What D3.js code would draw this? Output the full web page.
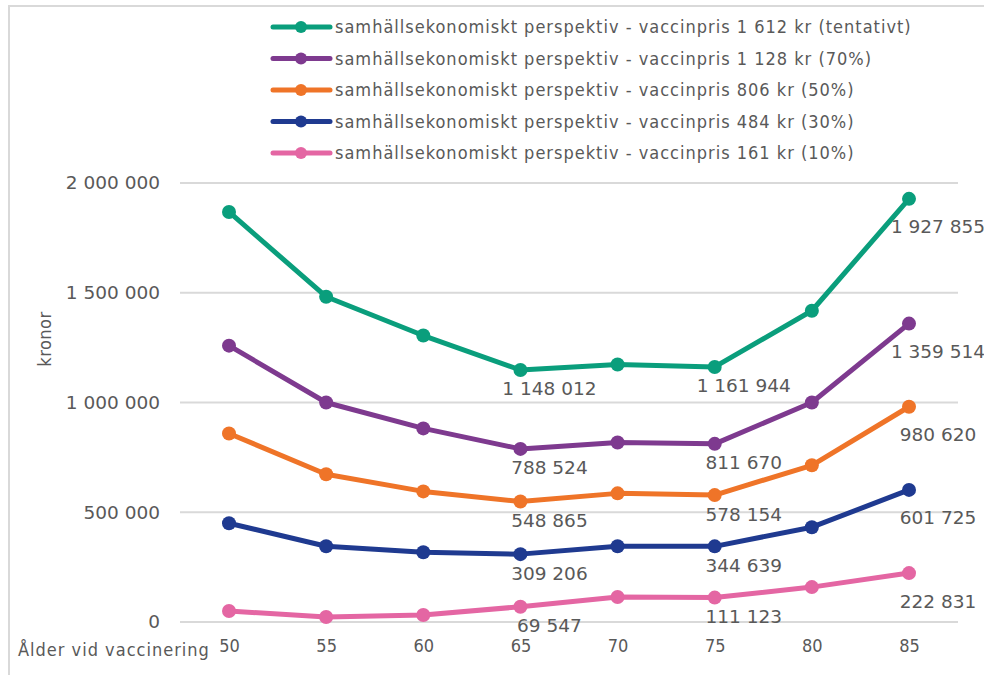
<!DOCTYPE html>
<html>
<head>
<meta charset="utf-8">
<script src="https://cdn.jsdelivr.net/npm/d3@7/dist/d3.min.js"></script>
<style>
  html, body { margin: 0; padding: 0; background: #fff; }
  svg { display: block; }
</style>
</head>
<body>
<div id="chart"></div>
<script>
// Ålder vid vaccinering
const ages = [50, 55, 60, 65, 70, 75, 80, 85];

// kronor per serie (etiketterade värden exakta)
const pris1612 = [1868000, 1482000, 1305000, 1148012, 1173000, 1161944, 1418000, 1927855];
const pris1128 = [1259000, 1000000, 882000, 788524, 818000, 811670, 1000000, 1359514];
const pris806 = [859000, 673000, 595000, 548865, 586000, 578154, 714000, 980620];
const pris484 = [450000, 345000, 318000, 309206, 345000, 344639, 432000, 601725];
const pris161 = [50000, 23000, 32000, 69547, 114000, 111123, 159000, 222831];

const seriesNames = [
    "samhällsekonomiskt perspektiv - vaccinpris 1 612 kr (tentativt)",
    "samhällsekonomiskt perspektiv - vaccinpris 1 128 kr (70%)",
    "samhällsekonomiskt perspektiv - vaccinpris 806 kr (50%)",
    "samhällsekonomiskt perspektiv - vaccinpris 484 kr (30%)",
    "samhällsekonomiskt perspektiv - vaccinpris 161 kr (10%)"
];
const seriesColors = ["#0a9e7c", "#7e3a8f", "#ef7428", "#1f3a90", "#e466a3"];
const yTicks = [0, 500000, 1000000, 1500000, 2000000];
const labeledAges = [65, 75, 85];

const W = 984, H = 675;
const textGray = "#595959";
const narrowFont = "'DejaVu Sans Condensed', 'Liberation Sans Narrow', sans-serif";
const wideFont = "'DejaVu Sans', Verdana, sans-serif";
const fmt = v => d3.format(",")(v).replace(/,/g, " ");

const series = [pris1612, pris1128, pris806, pris484, pris161].map((vals, i) => ({
    name: seriesNames[i],
    color: seriesColors[i],
    values: vals.map((v, j) => ({ age: ages[j], value: v }))
}));

const svg = d3.select("#chart").append("svg")
    .attr("width", W)
    .attr("height", H);

// ram
svg.append("rect")
    .attr("x", 9).attr("y", 6)
    .attr("width", W + 10).attr("height", H + 10)
    .attr("fill", "none")
    .attr("stroke", "#d9d9d9")
    .attr("stroke-width", 2);

const plotLeft = 180, plotRight = 958;
const x = d3.scalePoint()
    .domain(ages)
    .range([229, 909]);

const y = d3.scaleLinear()
    .domain([0, 2000000])
    .range([622, 183]);

// rutnät
svg.append("g")
    .selectAll("line")
    .data(yTicks)
    .join("line")
    .attr("x1", plotLeft).attr("x2", plotRight)
    .attr("y1", d => y(d)).attr("y2", d => y(d))
    .attr("stroke", "#d9d9d9")
    .attr("stroke-width", 2);

// y-axel
const yAxis = svg.append("g")
    .attr("transform", "translate(160,0)")
    .call(d3.axisLeft(y).tickValues(yTicks).tickFormat(fmt).tickSize(0).tickPadding(0));
yAxis.select(".domain").remove();
yAxis.selectAll("text")
    .style("font-family", wideFont)
    .style("font-size", "18.5px")
    .style("fill", textGray);

// x-axel
const xAxis = svg.append("g")
    .attr("transform", "translate(0,636)")
    .call(d3.axisBottom(x).tickSize(0).tickPadding(0));
xAxis.select(".domain").remove();
xAxis.selectAll("text")
    .attr("dy", "0.9em")
    .style("font-family", narrowFont)
    .style("font-size", "18px")
    .style("fill", textGray);

svg.append("text")
    .attr("x", 18).attr("y", 656)
    .style("font-family", narrowFont)
    .style("font-size", "18px")
    .style("letter-spacing", "1px")
    .style("fill", textGray)
    .text("Ålder vid vaccinering");

svg.append("text")
    .attr("transform", "translate(51,339) rotate(-90)")
    .attr("text-anchor", "middle")
    .style("font-family", narrowFont)
    .style("font-size", "18px")
    .style("letter-spacing", "0.5px")
    .style("fill", textGray)
    .text("kronor");

// linjer
const line = d3.line()
    .x(d => x(d.age))
    .y(d => y(d.value));

const sg = svg.append("g")
    .selectAll("g")
    .data(series)
    .join("g");

sg.append("path")
    .attr("d", d => line(d.values))
    .attr("fill", "none")
    .attr("stroke", d => d.color)
    .attr("stroke-width", 5)
    .attr("stroke-linejoin", "round");

sg.selectAll("circle")
    .data(d => d.values.map(v => ({ ...v, color: d.color })))
    .join("circle")
    .attr("cx", d => x(d.age))
    .attr("cy", d => y(d.value))
    .attr("r", 7)
    .attr("fill", d => d.color);

// dataetiketter
sg.selectAll("text.lbl")
    .data(d => d.values.filter(v => labeledAges.includes(v.age)))
    .join("text")
    .attr("class", "lbl")
    .attr("x", d => x(d.age) + 29)
    .attr("y", d => y(d.value) + (d.age === 85 ? 28 : 19))
    .attr("dy", "0.35em")
    .attr("text-anchor", "middle")
    .style("font-family", wideFont)
    .style("font-size", "18.5px")
    .style("fill", textGray)
    .text(d => fmt(d.value));

// förklaring
const legend = svg.append("g")
    .selectAll("g")
    .data(series)
    .join("g")
    .attr("transform", (d, i) => `translate(273,${27 + i * 31.5})`);

legend.append("line")
    .attr("x1", 0).attr("x2", 57)
    .attr("stroke", d => d.color)
    .attr("stroke-width", 5)
    .attr("stroke-linecap", "round");

legend.append("circle")
    .attr("cx", 28).attr("r", 6)
    .attr("fill", d => d.color);

legend.append("text")
    .attr("x", 62)
    .attr("dy", "0.35em")
    .style("font-family", narrowFont)
    .style("font-size", "18px")
    .style("letter-spacing", "1px")
    .style("fill", textGray)
    .text(d => d.name);
</script>
</body>
</html>
